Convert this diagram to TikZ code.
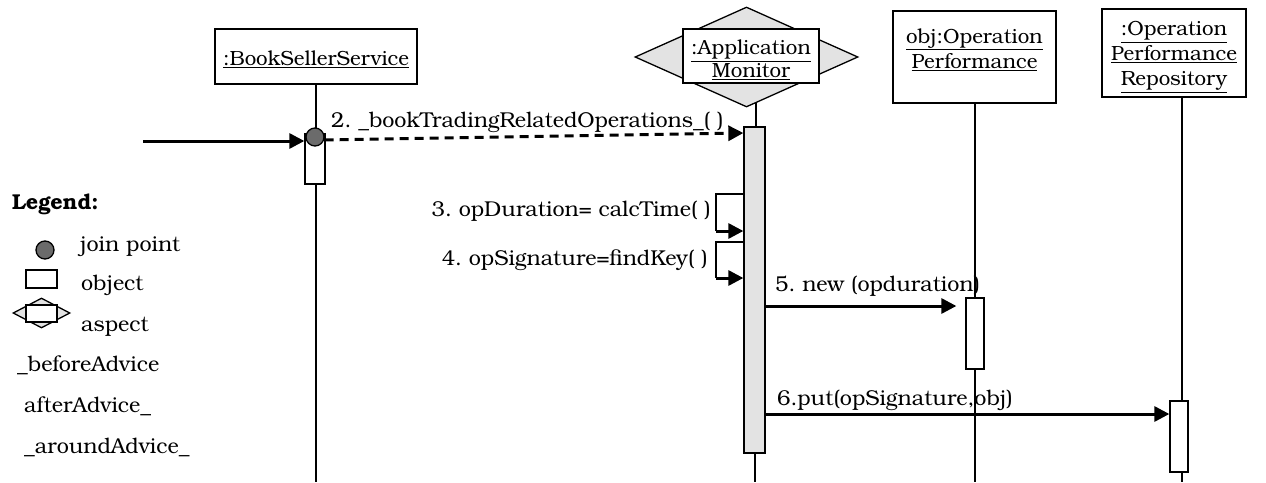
\documentclass[tikz,border=0pt]{standalone}
\usepackage{fontspec}
\setmainfont{TeX Gyre Bonum}
\frenchspacing
\usetikzlibrary{arrows.meta,shapes.geometric,backgrounds}
\begin{document}
\begin{tikzpicture}[x=1pt,y=-1pt,
  every node/.style={font=\fontsize{21.5}{25}\selectfont},
  head/.style={font=\fontsize{20.5}{25}\selectfont},
  objbox/.style={draw,fill=white,line width=1.3pt,inner sep=0pt,align=center,head},
  htext/.style={inner sep=0pt,align=center,head},
  actbox/.style={draw,fill=white,line width=1.3pt,inner sep=0pt},
  amact/.style={draw,fill=gray!22,line width=1.3pt,inner sep=0pt},
  life/.style={line width=1.3pt},
  msg/.style={line width=3pt,-{Triangle[length=15pt,width=15pt]}},
  dmsg/.style={line width=3pt,dash pattern=on 9pt off 6pt,-{Triangle[length=15pt,width=15pt]}},
  thin/.style={line width=1.3pt},
  lbl/.style={inner sep=0pt,anchor=base west},
  jpnode/.style={circle,draw,fill=black!58,line width=1.3pt,minimum size=18pt,inner sep=0pt},
  aspnode/.style={diamond,draw,fill=gray!22,line width=1.3pt,inner sep=0pt}
]
\useasboundingbox (0,0) rectangle (1266,482);

% ---- objects ----
\node[objbox,minimum width=202pt,minimum height=55pt] (bss) at (316,56.5) {};
\node[htext] (bsst) at (316,59.5) {\underline{:BookSellerService}};
\node[aspnode,minimum width=223pt,minimum height=100pt] (amd) at (746.5,57) {};
\node[objbox,minimum width=136pt,minimum height=54pt] (amb) at (751,56) {};
\node[htext] (ambt) at (751,60) {\underline{:Application}\\[-2pt]\underline{Monitor}};
\node[objbox,minimum width=163pt,minimum height=92pt] (opb) at (974.5,57) {};
\node[htext] (opt) at (974.5,49.5) {\underline{obj:Operation}\\\underline{Performance}};
\node[objbox,minimum width=144pt,minimum height=88pt] (rpb) at (1174,53) {};
\node[htext] (rpt) at (1174,57) {\underline{:Operation}\\\underline{Performance}\\\underline{Repository}};

% ---- activations ----
\node[actbox,minimum width=20pt,minimum height=50pt] (bact) at (315,159) {};
\node[amact,minimum width=21pt,minimum height=326pt] (aact) at (754.5,290) {};
\node[actbox,minimum width=18pt,minimum height=71pt] (oact) at (975,333.5) {};
\node[actbox,minimum width=18pt,minimum height=71pt] (ract) at (1179,436.5) {};
\node[jpnode] (jp) at (315,137) {};

% ---- lifeline ends ----
\coordinate (bend) at (316,482);
\coordinate (aend) at (755,482);
\coordinate (oend) at (975,482);
\coordinate (rend) at (1182,482);
\coordinate (atop) at (756,100);

\begin{pgfonlayer}{background}
  \draw[life] (bss.south -| bend) -- (bend);
  \draw[life] (atop) -- (aact.north -| atop);
  \draw[life] (aact.south -| aend) -- (aend);
  \draw[life] (opb.south -| oend) -- (oend);
  \draw[life] (rpb.south -| rend) -- (rend);
\end{pgfonlayer}

% ---- messages ----
\coordinate (in) at (143,141);
\draw[msg] (in) -- (bact.west |- in);
\coordinate (d1) at (326,140);
\coordinate (d2) at (744,133);
\draw[dmsg] (jp.east |- d1) -- (aact.west |- d2);
\node[lbl] (l2) at (331,127) {2. \_bookTradingRelatedOperations\_( )};

% self messages
\coordinate (s3a) at (716,194);
\coordinate (s3b) at (716,231);
\draw[thin] (aact.west |- s3a) -- (s3a) -- (s3b);
\draw[msg] (s3b) -- (aact.west |- s3b);
\node[inner sep=0pt,anchor=base east] (l3) at (711,216) {3. opDuration= calcTime( )};
\coordinate (s4a) at (716,242);
\coordinate (s4b) at (716,278);
\draw[thin] (aact.west |- s4a) -- (s4a) -- (s4b);
\draw[msg] (s4b) -- (aact.west |- s4b);
\node[inner sep=0pt,anchor=base east] (l4) at (708,265) {4. opSignature=findKey( )};

\coordinate (m5) at (0,306);
\draw[msg,shorten >=9pt] (aact.east |- m5) -- (oact.west |- m5);
\node[lbl] (l5) at (775,291) {5. new (opduration)};
\coordinate (m6) at (0,414);
\draw[msg] (aact.east |- m6) -- (ract.west |- m6);
\node[lbl] (l6) at (777,405) {6.put(opSignature,obj)};

% ---- legend ----
\node[lbl,font=\fontsize{21.5}{25}\selectfont\bfseries] (lg) at (12,209) {Legend:};
\node[jpnode] (ljp) at (45,250) {};
\node[lbl] (ljpt) at (80,251) {join point};
\node[actbox,minimum width=31pt,minimum height=18pt] (lob) at (41.5,279) {};
\node[lbl] (lobt) at (81,290) {object};
\node[aspnode,minimum width=57pt,minimum height=30pt] (lasd) at (41.5,313) {};
\node[actbox,minimum width=31pt,minimum height=17pt] (lasb) at (41.5,313.5) {};
\node[lbl] (last) at (81,331) {aspect};
\node[lbl] (lb) at (17,371) {\_beforeAdvice};
\node[lbl] (la) at (24,412) {afterAdvice\_};
\node[lbl] (lr) at (24,453) {\_aroundAdvice\_};
\end{tikzpicture}
\end{document}
